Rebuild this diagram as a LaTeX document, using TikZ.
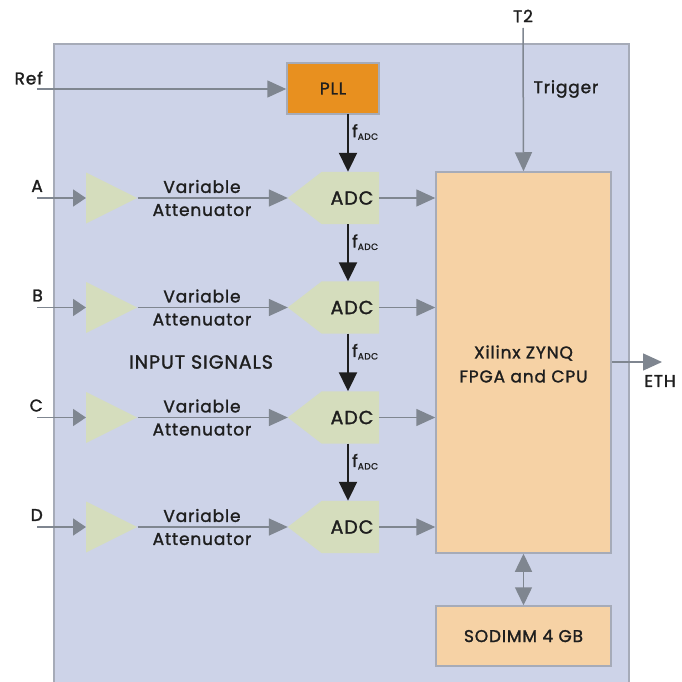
\documentclass[tikz,border=0pt]{standalone}
\usepackage{fontspec}
\setmainfont{Poppins}[FakeBold=1.5,LetterSpace=5]
\usetikzlibrary{arrows.meta,shapes.geometric,calc}
\definecolor{bgc}{HTML}{CDD3E8}
\definecolor{bord}{HTML}{A6ABB8}
\definecolor{ampc}{HTML}{D5DDBD}
\definecolor{fpgac}{HTML}{F6D2A5}
\definecolor{pllc}{HTML}{E8901F}
\definecolor{arrc}{HTML}{7F8690}
\definecolor{txt}{HTML}{1E1E1E}
\tikzset{
  lbl/.style={text=txt,font=\fontsize{17}{20}\selectfont,inner sep=0pt},
  boxc/.style={draw=bord,line width=1.5pt,inner sep=0pt,text=txt,font=\fontsize{17}{20}\selectfont},
  amp/.style={isosceles triangle,isosceles triangle stretches,fill=ampc,minimum width=51pt,minimum height=51pt,inner sep=0pt,anchor=west},
  adcbox/.style={minimum width=57pt,minimum height=52pt,inner sep=0pt},
  garr/.style={draw=arrc,line width=1.5pt,-{Triangle[length=19pt,width=17pt]}},
  garrs/.style={draw=arrc,line width=1.5pt,-{Triangle[length=13pt,width=17pt]}},
  barr/.style={draw=txt,line width=2pt,-{Triangle[length=19pt,width=18pt]}},
  flbl/.style={text=txt,inner sep=0pt,anchor=west,font=\fontsize{17}{20}\selectfont}
}
\newcommand{\fadc}{f\textsubscript{\fontsize{9}{10}\selectfont ADC}}
\begin{document}
\begin{tikzpicture}[x=1pt,y=-1pt]
\useasboundingbox (0,0) rectangle (681,682);
% background panel
\fill[bgc] (54,44) rectangle (629,682);
\draw[bord,line width=2pt] (54,682) -- (54,44) -- (629,44) -- (629,682);

% PLL
\node[boxc,fill=pllc,minimum width=92pt,minimum height=51pt] (pll) at (333,88.5) {PLL};
\node[lbl,anchor=east] (ref) at (43,78) {Ref};
\coordinate (refin) at (37,89);
\draw[garr] (refin) -- (refin -| pll.west);

% FPGA
\node[boxc,fill=fpgac,minimum width=175pt,minimum height=381pt] (fpga) at (523.5,362.5) {};
\node[lbl,align=center,font=\fontsize{17}{24}\selectfont] (fpgat) at (523.5,364) {Xilinx ZYNQ\\FPGA and CPU};
\node[boxc,fill=fpgac,minimum width=175pt,minimum height=60pt] (sodimm) at (523.5,636) {SODIMM 4 GB};
\draw[draw=arrc,line width=1.5pt,{Triangle[length=18pt,width=17pt]}-{Triangle[length=18pt,width=17pt]}] (fpga.south) -- (sodimm.north);

% Trigger
\node[lbl] (t2) at (523,16) {T2};
\coordinate (t2in) at (523,28);
\draw[garr] (t2in) -- (fpga.north);
\node[lbl] (trig) at (566,89) {Trigger};

% ETH
\coordinate (ethend) at (662,362);
\draw[garr] (fpga.east |- ethend) -- (ethend);
\node[lbl] (eth) at (660,381) {ETH};

\node[lbl,font=\fontsize{19}{22}\selectfont] (insig) at (201,362) {INPUT SIGNALS};

% rows
\foreach \n/\y in {A/198,B/307.5,C/417.5,D/527}{
  \node[lbl,anchor=east] (l\n) at (43,\y-12) {\n};
  \coordinate (in\n) at (37,\y);
  \node[amp] (amp\n) at (86,\y) {};
  \node[adcbox] (adc\n) at (350.5,\y) {};
  \fill[ampc] (adc\n.north west) -- (adc\n.north east) -- (adc\n.south east) -- (adc\n.south west) -- ($(adc\n.west)+(-34,0)$) -- cycle;
  \node[text=txt,font=\fontsize{19}{21}\selectfont,inner sep=0pt] (adct\n) at (352,\y) {ADC};
  \coordinate (tip\n) at ($(adc\n.west)+(-34,0)$);
  \node[lbl,align=center,font=\fontsize{17}{23}\selectfont] (att\n) at (202,\y) {Variable\\Attenuator};
  \draw[garrs] (in\n) -- (amp\n.west);
  \draw[garr] (amp\n.east) -- (tip\n);
  \draw[garr] (adc\n.east) -- (adc\n.east -| fpga.west);
}
% fADC arrows
\coordinate (c0) at (348,114);
\draw[barr] (c0) -- (c0 |- adcA.north);
\node[flbl] (f0) at (352,132) {\fadc};
\foreach \a/\b in {A/B,B/C,C/D}{
  \coordinate (c\a) at (348,0);
  \draw[barr] (c\a |- adc\a.south) -- (c\a |- adc\b.north);
  \node[flbl] (f\a) at ($(c\a |- adc\a.south)+(4,18)$) {\fadc};
}
\end{tikzpicture}
\end{document}
